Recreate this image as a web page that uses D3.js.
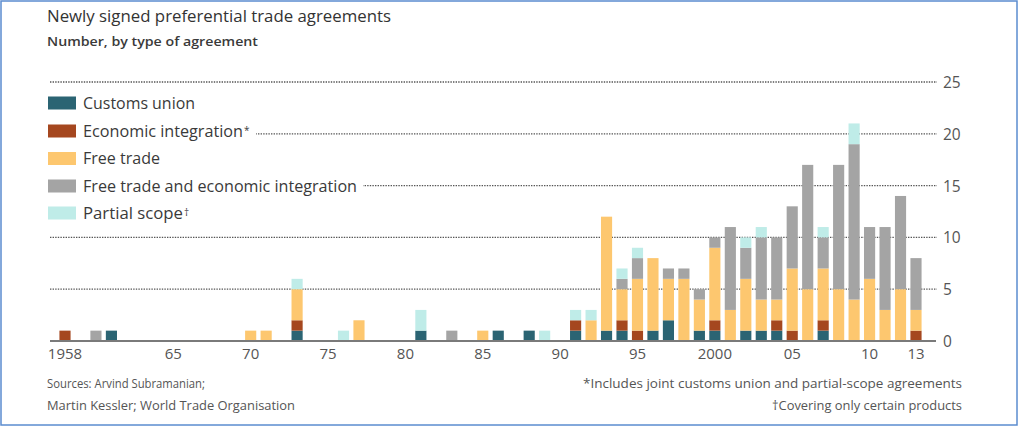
<!DOCTYPE html>
<html>
<head>
<meta charset="utf-8">
<script src="https://cdn.jsdelivr.net/npm/d3@7"></script>
<style>
  html, body { margin: 0; padding: 0; background: #fff; }
  svg { display: block; }
  text { font-family: "Open Sans", "Noto Sans", sans-serif; }
</style>
</head>
<body>
<svg id="chart" width="1019" height="427"></svg>
<script>
// Years covered, one bar per year
const years = d3.range(1958, 2014);

// Agreements signed per year, by type (1958 ... 2013, ten years per row)
const customsUnion = [
  0,0,0,1,0,0,0,0,0,0,
  0,0,0,0,0,1,0,0,0,0,
  0,0,0,1,0,0,0,0,1,0,
  1,0,0,1,0,1,1,0,1,2,
  0,1,1,0,1,1,1,0,0,1,
  0,0,0,0,0,0
];
const economicIntegration = [
  1,0,0,0,0,0,0,0,0,0,
  0,0,0,0,0,1,0,0,0,0,
  0,0,0,0,0,0,0,0,0,0,
  0,0,0,1,0,0,1,1,0,0,
  0,0,1,0,0,0,1,1,0,1,
  0,0,0,0,0,1
];
const freeTrade = [
  0,0,0,0,0,0,0,0,0,0,
  0,0,1,1,0,3,0,0,0,2,
  0,0,0,0,0,0,0,1,0,0,
  0,0,0,0,2,11,3,5,7,4,
  6,3,7,3,5,3,2,6,5,5,
  5,4,6,3,5,2
];
const freeTradeEconInt = [
  0,0,1,0,0,0,0,0,0,0,
  0,0,0,0,0,0,0,0,0,0,
  0,0,0,0,0,1,0,0,0,0,
  0,0,0,0,0,0,1,2,0,1,
  1,1,1,8,3,6,6,6,12,3,
  12,15,5,8,9,5
];
const partialScope = [
  0,0,0,0,0,0,0,0,0,0,
  0,0,0,0,0,1,0,0,1,0,
  0,0,0,2,0,0,0,0,0,0,
  0,1,0,1,1,0,1,1,0,0,
  0,0,0,0,1,1,0,0,0,1,
  0,2,0,0,0,0
];

const seriesKeys = ["customs", "economic", "free", "freeEcon", "partial"];
const seriesLabels = ["Customs union", "Economic integration", "Free trade",
                      "Free trade and economic integration", "Partial scope"];
const seriesMarks = ["", "*", "", "", "\u2020"];
const seriesColors = ["#2b6473", "#a5471f", "#fdc76f", "#a4a4a4", "#bfece8"];

const yTicks = [0, 5, 10, 15, 20, 25];
const xTickYears = [1958, 1965, 1970, 1975, 1980, 1985, 1990, 1995, 2000, 2005, 2010, 2013];
const xTickLabels = ["1958", "65", "70", "75", "80", "85", "90", "95", "2000", "05", "10", "13"];

const rows = years.map((yr, i) => ({
  year: yr,
  customs: customsUnion[i],
  economic: economicIntegration[i],
  free: freeTrade[i],
  freeEcon: freeTradeEconInt[i],
  partial: partialScope[i]
}));

const svg = d3.select("#chart");

// Frame
svg.append("rect")
  .attr("x", 1).attr("y", 1).attr("width", 1016).attr("height", 424)
  .attr("fill", "none").attr("stroke", "#5b8ccf").attr("stroke-width", 1.5);

// Scales
const step = 851 / 55;
const x = d3.scaleBand()
  .domain(years)
  .range([65 - step / 2, 916 + step / 2])
  .paddingInner(0.28)
  .paddingOuter(0.14);

const y = d3.scaleLinear().domain([0, 25]).range([341, 82]);

// Horizontal gridlines
svg.append("g")
  .selectAll("line")
  .data(yTicks.filter(d => d > 0))
  .join("line")
  .attr("x1", 50).attr("x2", 937)
  .attr("y1", d => y(d)).attr("y2", d => y(d))
  .attr("stroke", "#555")
  .attr("stroke-width", 1.3)
  .attr("stroke-dasharray", "1.4,1.2");

// Right-hand value labels
const yAxis = d3.axisRight(y).tickValues(yTicks).tickSize(0).tickPadding(0);
const yAxisG = svg.append("g")
  .attr("transform", "translate(943,0)")
  .call(yAxis);
yAxisG.select(".domain").remove();
yAxisG.selectAll("text")
  .attr("font-size", 15.5)
  .attr("fill", "#555")
  .attr("font-family", "'Open Sans', sans-serif")
  .attr("dy", "0.35em");

// Legend (white backing interrupts the gridlines behind it)
const legend = svg.append("g");
const rowY = [103, 131, 158.5, 186, 213];
const labelLen = [112, 160, 77, 274, 100];
seriesLabels.forEach((label, i) => {
  const g = legend.append("g").attr("transform", `translate(0,${rowY[i]})`);
  const bg = g.append("rect").attr("fill", "#fff");
  g.append("rect")
    .attr("x", 48).attr("y", -6.5).attr("width", 28).attr("height", 13)
    .attr("fill", seriesColors[i]);
  const t = g.append("text")
    .attr("x", 83).attr("y", 0).attr("dy", "0.36em")
    .attr("font-size", 16)
    .attr("fill", "#3a3a3a");
  t.append("tspan")
    .attr("textLength", labelLen[i]).attr("lengthAdjust", "spacingAndGlyphs")
    .text(label);
  if (seriesMarks[i]) {
    t.append("tspan")
      .attr("dx", 1)
      .attr("dy", "-0.3em")
      .attr("font-size", 10)
      .text(seriesMarks[i]);
  }
  const bb = t.node().getBBox();
  bg.attr("x", 44).attr("y", -11).attr("width", bb.x + bb.width - 44 + 6).attr("height", 22);
});

// Stacked bars
const stacked = d3.stack().keys(seriesKeys)(rows);
svg.append("g")
  .selectAll("g")
  .data(stacked)
  .join("g")
  .attr("fill", (d, i) => seriesColors[i])
  .selectAll("rect")
  .data(d => d.filter(s => s[1] - s[0] > 0))
  .join("rect")
  .attr("x", d => x(d.data.year))
  .attr("width", x.bandwidth())
  .attr("y", d => y(d[1]))
  .attr("height", d => y(d[0]) - y(d[1]));

// Baseline
svg.append("line")
  .attr("x1", 50).attr("x2", 936)
  .attr("y1", y(0)).attr("y2", y(0))
  .attr("stroke", "#7a7a7a").attr("stroke-width", 2.2);

// Year labels
const xAxis = d3.axisBottom(x)
  .tickValues(xTickYears)
  .tickFormat((d, i) => xTickLabels[i])
  .tickSize(0).tickPadding(0);
const xAxisG = svg.append("g")
  .attr("transform", "translate(0,348)")
  .call(xAxis);
xAxisG.select(".domain").remove();
xAxisG.selectAll("text")
  .attr("font-size", 15)
  .attr("fill", "#555")
  .attr("font-family", "'Open Sans', sans-serif")
  .attr("dy", "0.72em");

// Titles
svg.append("text")
  .attr("x", 47).attr("y", 22)
  .attr("font-size", 17).attr("font-weight", 500).attr("fill", "#333")
  .attr("textLength", 344).attr("lengthAdjust", "spacingAndGlyphs")
  .text("Newly signed preferential trade agreements");
svg.append("text")
  .attr("x", 47).attr("y", 46)
  .attr("font-size", 12.5).attr("font-weight", 600).attr("fill", "#3a3a3a")
  .attr("textLength", 211).attr("lengthAdjust", "spacingAndGlyphs")
  .text("Number, by type of agreement");

// Notes
const note = (txt, xPos, yPos, anchor, len) => svg.append("text")
  .attr("x", xPos).attr("y", yPos)
  .attr("text-anchor", anchor)
  .attr("font-size", 13.5).attr("fill", "#555")
  .attr("textLength", len).attr("lengthAdjust", "spacingAndGlyphs")
  .text(txt);
note("Sources: Arvind Subramanian;", 47, 388, "start", 158);
note("Martin Kessler; World Trade Organisation", 47, 410, "start", 248);
note("*Includes joint customs union and partial-scope agreements", 962, 388, "end", 379);
note("\u2020Covering only certain products", 962, 410, "end", 190);
</script>
</body>
</html>
